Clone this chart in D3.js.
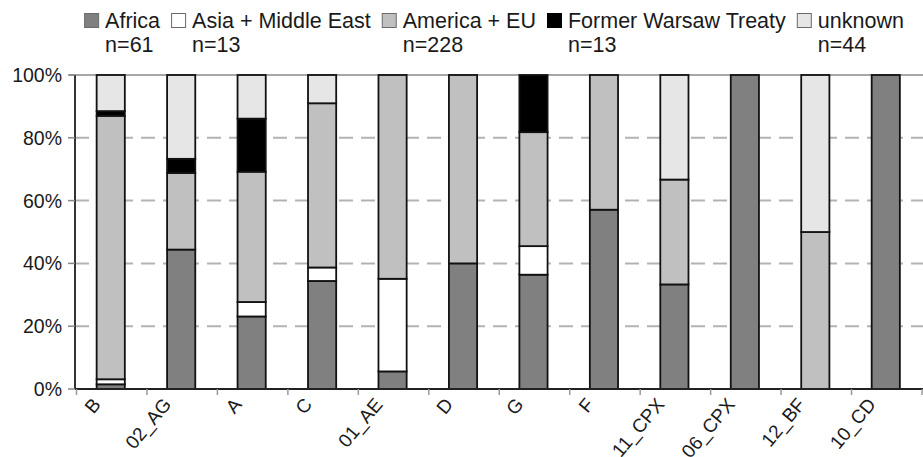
<!DOCTYPE html>
<html>
<head>
<meta charset="utf-8">
<script src="https://cdn.jsdelivr.net/npm/d3@7"></script>
<style>
  html, body { margin: 0; padding: 0; background: #fff; }
  svg { display: block; font-family: "Liberation Sans", Arial, sans-serif; }
</style>
</head>
<body>
<svg id="chart" width="923" height="457"></svg>
<script>
// Subtype distribution by region of origin (percent of each subtype)
const categories = ["B", "02_AG", "A", "C", "01_AE", "D", "G", "F", "11_CPX", "06_CPX", "12_BF", "10_CD"];

const africa   = [1.5, 44.4, 23.1, 34.4, 5.6, 40.0, 36.4, 57.1, 33.3, 100, 0, 100];
const asiaME   = [1.6, 0, 4.6, 4.3, 29.5, 0, 9.1, 0, 0, 0, 0, 0];
const america  = [83.9, 24.4, 41.5, 52.3, 64.9, 60.0, 36.3, 42.9, 33.4, 0, 50, 0];
const warsaw   = [1.5, 4.5, 16.9, 0, 0, 0, 18.2, 0, 0, 0, 0, 0];
const unknown  = [11.5, 26.7, 13.9, 9.0, 0, 0, 0, 0, 33.3, 0, 50, 0];

const seriesNames  = ["Africa", "Asia + Middle East", "America + EU", "Former Warsaw Treaty", "unknown"];
const seriesCounts = ["n=61", "n=13", "n=228", "n=13", "n=44"];
const seriesFills  = ["#808080", "#ffffff", "#c0c0c0", "#000000", "#e6e6e6"];
const yTicks = [0, 20, 40, 60, 80, 100];

const seriesValues = [africa, asiaME, america, warsaw, unknown];
const keys = seriesNames;
const rows = categories.map((c, i) => {
  const r = { cat: c };
  keys.forEach((k, j) => { r[k] = seriesValues[j][i]; });
  return r;
});

const svg = d3.select("#chart");
const plotLeft = 75;

const x = d3.scaleBand().domain(categories).range([76.5, 922]).padding(0);
const y = d3.scaleLinear().domain([0, 100]).range([389, 75]);
const barW = x.bandwidth() * 0.4;

// dashed horizontal gridlines
svg.append("g").selectAll("line")
  .data(yTicks.filter(t => t > 0 && t < 100))
  .join("line")
  .attr("x1", plotLeft).attr("x2", 923)
  .attr("y1", d => y(d)).attr("y2", d => y(d))
  .attr("stroke", "#b3b3b3").attr("stroke-width", 2)
  .attr("stroke-dasharray", "14,8");

// top frame line
svg.append("line")
  .attr("x1", plotLeft - 6).attr("x2", 923)
  .attr("y1", y(100)).attr("y2", y(100))
  .attr("stroke", "#8a8a8a").attr("stroke-width", 1.5);

// stacked bars
const stacked = d3.stack().keys(keys)(rows);
const gBars = svg.append("g");
stacked.forEach((s, si) => {
  gBars.append("g")
    .selectAll("rect")
    .data(s.filter(d => d[1] - d[0] > 0))
    .join("rect")
    .attr("x", d => x(d.data.cat) + x.bandwidth() / 2 - barW / 2 - 1)
    .attr("width", barW)
    .attr("y", d => y(d[1]))
    .attr("height", d => y(d[0]) - y(d[1]))
    .attr("fill", seriesFills[si])
    .attr("stroke", "#111")
    .attr("stroke-width", 1.8);
});

// y axis
const gy = svg.append("g");
gy.append("line")
  .attr("x1", plotLeft).attr("x2", plotLeft)
  .attr("y1", y(100)).attr("y2", y(0))
  .attr("stroke", "#333").attr("stroke-width", 2);
gy.selectAll("line.tick")
  .data(yTicks)
  .join("line")
  .attr("class", "tick")
  .attr("x1", plotLeft - 7).attr("x2", plotLeft)
  .attr("y1", d => y(d)).attr("y2", d => y(d))
  .attr("stroke", "#888").attr("stroke-width", 1.5);
gy.selectAll("text")
  .data(yTicks)
  .join("text")
  .attr("x", 62)
  .attr("y", d => y(d))
  .attr("dy", "0.36em")
  .attr("text-anchor", "end")
  .attr("font-size", 19.5)
  .attr("fill", "#1a1a1a")
  .text(d => d + "%");

// x axis
const gx = svg.append("g");
gx.append("line")
  .attr("x1", plotLeft).attr("x2", 923)
  .attr("y1", y(0)).attr("y2", y(0))
  .attr("stroke", "#222").attr("stroke-width", 2);
const boundaries = categories.map(c => x(c)).concat([x.range()[1]]);
gx.selectAll("line.tick")
  .data(boundaries)
  .join("line")
  .attr("class", "tick")
  .attr("x1", d => d).attr("x2", d => d)
  .attr("y1", y(0)).attr("y2", y(0) + 6)
  .attr("stroke", "#999").attr("stroke-width", 1.5);
gx.selectAll("text")
  .data(categories)
  .join("text")
  .attr("transform", c => `translate(${x(c) + x.bandwidth() / 2 - 10},${405}) rotate(-50)`)
  .attr("text-anchor", "end")
  .attr("font-size", 19)
  .attr("fill", "#1a1a1a")
  .text(c => c);

// legend: swatch + name, count beneath
const legend = svg.append("g");
let cursor = 0;
seriesNames.forEach((name, i) => {
  const g = legend.append("g");
  g.append("rect")
    .attr("x", 0.5).attr("y", 13.5)
    .attr("width", 14).attr("height", 14)
    .attr("fill", seriesFills[i])
    .attr("stroke", i === 3 ? "#000" : "#6a6a6a")
    .attr("stroke-width", 1);
  const t = g.append("text")
    .attr("x", 21).attr("y", 28)
    .attr("font-size", 21.5)
    .attr("fill", "#1a1a1a")
    .text(name);
  g.append("text")
    .attr("x", 21).attr("y", 52)
    .attr("font-size", 21.5)
    .attr("fill", "#1a1a1a")
    .text(seriesCounts[i]);
  const w = 21 + t.node().getComputedTextLength();
  g.attr("transform", `translate(${cursor},0)`);
  cursor += w + 11;
});
const totalW = cursor - 11;
legend.attr("transform", `translate(${494 - totalW / 2},0)`);
</script>
</body>
</html>
